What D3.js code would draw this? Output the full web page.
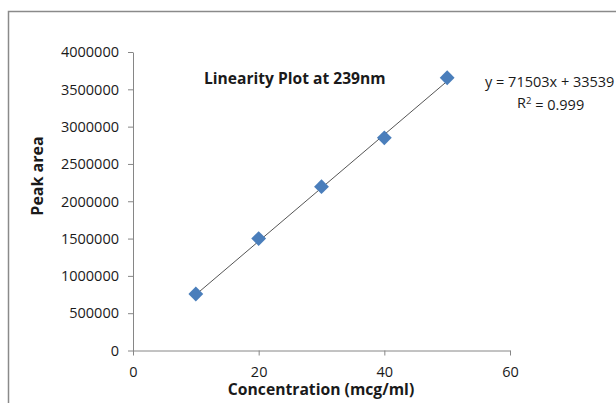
<!DOCTYPE html>
<html>
<head>
<meta charset="utf-8">
<script src="https://cdn.jsdelivr.net/npm/d3@7"></script>
<style>
  body { margin: 0; background: #fff; }
  svg { display: block; }
  text { font-family: "Open Sans", sans-serif; fill: #1a1a1a; }
</style>
</head>
<body>
<script>
// measured data: concentration (mcg/ml) vs peak area
const concentration = [10, 20, 30, 40, 50];
const peakArea = [757000, 1500000, 2195000, 2850000, 3655000];

// trendline as printed on the chart
const slope = 71503, intercept = 33539;
const equationText = "y = 71503x + 33539";
const r2Text = "0.999";

const xTicks = [0, 20, 40, 60];
const yTicks = [0, 500000, 1000000, 1500000, 2000000, 2500000, 3000000, 3500000, 4000000];

const canvWidth = 616, canvHeight = 403;

const svg = d3.select("body").append("svg")
    .attr("width", canvWidth)
    .attr("height", canvHeight);

// chart area frame (runs off the right and bottom edge)
svg.append("rect")
    .attr("x", 8.5).attr("y", 11.5)
    .attr("width", 640).attr("height", 420)
    .attr("fill", "none")
    .attr("stroke", "#8a8a8a")
    .attr("stroke-width", 1.5);

const xScale = d3.scaleLinear().domain([0, 60]).range([133, 510]);
const yScale = d3.scaleLinear().domain([0, 4000000]).range([350.5, 52]);

// axes
const xAxis = d3.axisBottom(xScale).tickValues(xTicks).tickSize(5).tickSizeOuter(0);
const yAxis = d3.axisLeft(yScale).tickValues(yTicks).tickSize(5).tickSizeOuter(0)
    .tickFormat(d3.format("d"));

const gx = svg.append("g")
    .attr("transform", `translate(0,${yScale(0)})`)
    .call(xAxis);
const gy = svg.append("g")
    .attr("transform", `translate(${xScale(0)},0)`)
    .call(yAxis);

[gx, gy].forEach(g => {
    g.select(".domain").attr("stroke", "#868686");
    g.selectAll(".tick line").attr("stroke", "#868686");
    g.selectAll(".tick text")
        .attr("font-family", "Open Sans, sans-serif")
        .attr("font-size", "14.5px")
        .attr("fill", "#1a1a1a");
});
gx.selectAll(".tick text").attr("dy", "0").attr("y", 26.5);
gy.selectAll(".tick text").attr("x", -14).attr("dy", "0.33em");

// trendline between first and last concentration
const xr = d3.extent(concentration);
svg.append("line")
    .attr("x1", xScale(xr[0])).attr("y1", yScale(slope * xr[0] + intercept))
    .attr("x2", xScale(xr[1])).attr("y2", yScale(slope * xr[1] + intercept))
    .attr("stroke", "#555")
    .attr("stroke-width", 1);

// diamond markers
const diamond = d3.symbol().type(d3.symbolSquare).size(110);
svg.selectAll("path.pt")
    .data(concentration)
    .enter().append("path")
    .attr("class", "pt")
    .attr("d", diamond)
    .attr("transform", (d, i) => `translate(${xScale(d)},${yScale(peakArea[i])}) rotate(45)`)
    .attr("fill", "#4a7ebb");

// chart title
svg.append("text")
    .attr("x", 204).attr("y", 84)
    .attr("font-size", "15.6px")
    .attr("font-weight", "bold")
    .text("Linearity Plot at 239nm");

// regression label
svg.append("text")
    .attr("x", 485).attr("y", 87)
    .attr("font-size", "14.5px")
    .text(equationText);
const r2 = svg.append("text")
    .attr("x", 517).attr("y", 108)
    .attr("font-size", "14.5px");
r2.append("tspan").text("R");
r2.append("tspan").attr("dy", "-0.45em").attr("font-size", "9.5px").text("2");
r2.append("tspan").attr("dy", "0.45em").text(" = " + r2Text);

// axis titles
svg.append("text")
    .attr("x", 321).attr("y", 395)
    .attr("text-anchor", "middle")
    .attr("font-size", "15.7px")
    .attr("font-weight", "bold")
    .text("Concentration (mcg/ml)");

svg.append("text")
    .attr("transform", "translate(43,176) rotate(-90)")
    .attr("text-anchor", "middle")
    .attr("font-size", "16px")
    .attr("font-weight", "bold")
    .text("Peak area");
</script>
</body>
</html>
